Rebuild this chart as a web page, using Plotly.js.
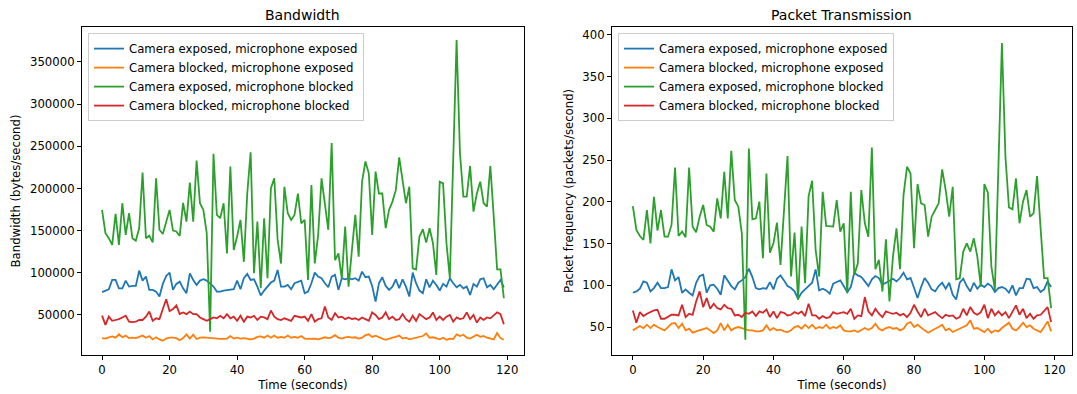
<!DOCTYPE html>
<html>
<head>
<meta charset="utf-8">
<script src="https://cdn.plot.ly/plotly-3.0.1.min.js"></script>
<style>html,body{margin:0;padding:0;background:#fff;}#chart{width:1077px;height:394px;}</style>
</head>
<body>
<div id="chart"></div>
<script>
// ---- data ----
const time = Array.from({length: 120}, (_, i) => i);
const seriesNames = [
  'Camera exposed, microphone exposed',
  'Camera blocked, microphone exposed',
  'Camera exposed, microphone blocked',
  'Camera blocked, microphone blocked'
];
const colors = ['#1f77b4', '#ff7f0e', '#2ca02c', '#d62728'];

// Bandwidth (bytes/second)
const bwCamExpMicExp = [
  77000, 79000, 80500, 91500, 91500, 81600, 81600, 90700, 83600, 84400,
  84400, 102600, 90700, 95500, 79700, 79700, 77700, 71800, 86800, 96300,
  100200, 79700, 86800, 89500, 81600, 75700, 99400, 91500, 85600, 90700,
  92300, 90700, 87600, 83600, 77700, 77700, 78900, 79700, 79700, 80500,
  90700, 80500, 93500, 98600, 91500, 92300, 83600, 73000, 78900, 84400,
  88400, 90700, 103400, 83600, 83600, 85600, 80500, 87600, 89500, 90700,
  75700, 77700, 87600, 100200, 95500, 93500, 87600, 82800, 95500, 97500,
  79700, 93500, 92300, 93500, 92300, 93500, 90700, 101400, 94700, 95500,
  84400, 65800, 87600, 94700, 84400, 79700, 83600, 92300, 81600, 92300,
  83600, 71800, 100200, 87600, 78900, 75700, 92300, 82800, 90700, 85600,
  78900, 86800, 83600, 93500, 87600, 82800, 85600, 81600, 83600, 73700,
  86800, 83600, 92300, 93500, 82800, 85600, 80500, 86800, 91500, 82800
];
const bwCamBlkMicExp = [
  22500, 22000, 23500, 24500, 23000, 27000, 23500, 25500, 22500, 23000,
  22500, 24000, 25500, 23000, 25000, 21000, 23500, 21000, 19500, 22000,
  23000, 23000, 22500, 20000, 22500, 27000, 22000, 26500, 21500, 23000,
  23500, 23000, 22500, 22000, 22000, 21500, 21500, 22000, 25000, 22000,
  23000, 22000, 22500, 21500, 21000, 22000, 24000, 24500, 23000, 25500,
  23000, 25500, 23000, 24000, 23000, 25500, 23000, 24000, 23000, 25000,
  22000, 21500, 21500, 22000, 21000, 22500, 23500, 22500, 23500, 26000,
  23000, 22000, 23500, 24000, 23000, 23500, 22000, 23000, 26000, 27000,
  24000, 25500, 23500, 22000, 20500, 22000, 23000, 24000, 25500, 22000,
  23000, 21000, 22000, 23000, 24000, 25000, 28000, 23000, 23500, 22000,
  21000, 23000, 20500, 22000, 21500, 27000, 25000, 26500, 23000, 22000,
  24000, 26500, 24000, 25000, 23000, 22000, 21000, 28500, 22500, 20500
];
const bwCamExpMicBlk = [
  174500, 147000, 141000, 133000, 170000, 133000, 182500, 145000, 170600, 141000,
  138000, 153000, 219000, 141000, 144000, 136000, 212000, 151000, 146000, 160700,
  174600, 150000, 149000, 143700, 183000, 160700, 207000, 160700, 233000, 182500,
  174500, 147000, 30000, 241000, 168600, 164700, 182500, 123000, 226000, 127000,
  143000, 162700, 113000, 194000, 243000, 99400, 160700, 81600, 164700, 93500,
  200000, 212000, 139000, 111000, 202000, 170600, 162700, 168600, 194000, 158700,
  162700, 91500, 204000, 111000, 145000, 212000, 182500, 151000, 254000, 115000,
  123000, 93500, 154800, 83600, 127000, 168600, 119000, 208000, 232000, 218000,
  145000, 220000, 194000, 194000, 153000, 174500, 184400, 198000, 237000, 210000,
  182500, 202000, 105400, 104000, 143000, 151600, 135800, 152800, 135000, 97500,
  208000, 206000, 135000, 93500, 230000, 376000, 241700, 190300, 190300, 226700,
  172500, 194000, 208000, 182500, 178500, 226700, 166600, 104000, 104000, 69800
];
const bwCamBlkMicBlk = [
  49200, 38200, 48000, 43000, 44000, 45000, 47000, 49000, 42000, 41500,
  42000, 44000, 44000, 48000, 54000, 43000, 46000, 45000, 57000, 68700,
  54500, 57000, 61400, 51200, 53000, 51000, 54000, 51000, 51000, 47000,
  45000, 43000, 45000, 47000, 46000, 49000, 46000, 51000, 46000, 48000,
  43000, 49000, 42000, 48000, 47000, 49000, 44000, 48000, 47000, 45000,
  55300, 48000, 45000, 44000, 46000, 44000, 43000, 49000, 48000, 47000,
  48000, 43000, 51000, 42000, 45000, 46000, 60000, 47000, 44000, 52000,
  47000, 48000, 45000, 47000, 45000, 46000, 44000, 47000, 45000, 43000,
  53000, 50000, 45000, 47000, 53000, 45000, 48000, 44000, 45000, 51000,
  45000, 42000, 49000, 43000, 51000, 48000, 45000, 47000, 53000, 44000,
  48000, 44000, 48000, 50000, 42000, 47000, 45000, 46000, 53000, 45000,
  50000, 41000, 47000, 44000, 47000, 46000, 49000, 53000, 51000, 39000
];

// Packet frequency (packets/second)
const pkCamExpMicExp = [
  91.1, 92.7, 95.9, 104.7, 103.1, 92.7, 96.7, 103.1, 96.7, 96.7,
  97.9, 119.1, 105.9, 109.9, 91.1, 95.1, 91.1, 87.9, 103.1, 111.1,
  112.7, 91.1, 99.9, 100.7, 95.9, 88.7, 111.9, 105.9, 99.1, 95.1,
  103.1, 105.9, 109.9, 119.9, 109.9, 96.7, 95.1, 96.7, 95.9, 103.9,
  95.1, 107.9, 111.9, 105.9, 99.1, 96.7, 92.7, 83.9, 91.1, 95.1,
  99.1, 103.1, 119.1, 93.9, 95.9, 93.9, 89.9, 101.9, 103.9, 105.9,
  99.1, 91.9, 97.9, 115.1, 111.9, 109.9, 104.7, 99.1, 107.1, 111.1,
  108.7, 100.7, 103.1, 105.9, 107.9, 104.7, 108.7, 115.1, 107.1, 108.7,
  96.7, 84.7, 97.9, 108.7, 103.1, 95.1, 92.7, 99.1, 103.1, 95.9,
  103.1, 88.7, 83.1, 103.1, 107.9, 99.1, 92.7, 103.1, 95.9, 100.7,
  97.9, 101.9, 99.1, 91.9, 96.7, 97.9, 95.9, 91.1, 99.9, 87.9,
  96.7, 96.7, 107.9, 107.1, 96.7, 97.9, 91.9, 95.1, 104.7, 97.9
];
const pkCamBlkMicExp = [
  46.0, 48.8, 51.2, 48.8, 52.8, 48.8, 52.8, 50.0, 48.0, 46.0,
  50.0, 54.0, 54.8, 48.8, 54.0, 46.0, 48.0, 43.2, 44.8, 46.0,
  48.0, 48.8, 46.0, 42.8, 46.0, 54.8, 46.0, 52.8, 46.0, 48.8,
  50.0, 48.8, 48.0, 46.0, 46.0, 44.8, 44.8, 46.0, 52.0, 46.0,
  48.8, 46.0, 46.8, 44.8, 44.0, 46.0, 50.0, 51.2, 48.0, 52.8,
  48.8, 52.8, 48.0, 50.0, 48.8, 52.8, 48.0, 50.0, 48.8, 52.0,
  46.0, 44.8, 44.8, 46.0, 44.0, 46.8, 48.8, 46.8, 48.8, 54.0,
  48.0, 46.0, 48.8, 50.0, 48.0, 48.8, 46.0, 48.0, 54.0, 56.0,
  50.0, 52.8, 48.8, 46.0, 43.2, 46.0, 48.0, 50.0, 52.8, 46.0,
  48.0, 44.0, 46.0, 48.0, 50.0, 52.0, 58.0, 48.0, 48.8, 46.0,
  44.0, 48.0, 43.2, 46.0, 44.8, 48.8, 52.0, 55.2, 48.0, 46.0,
  50.0, 55.2, 50.0, 52.0, 48.0, 46.0, 44.0, 50.0, 56.8, 44.8
];
const pkCamExpMicBlk = [
  195.0, 166.3, 159.1, 154.3, 190.2, 150.3, 206.0, 165.5, 190.2, 158.3,
  158.3, 172.3, 241.2, 159.1, 164.3, 157.5, 241.2, 170.3, 163.5, 182.2,
  196.2, 172.3, 170.3, 164.3, 204.2, 180.2, 236.0, 180.2, 261.2, 202.2,
  194.2, 162.3, 34.7, 264.0, 179.0, 180.2, 200.2, 132.4, 234.0, 139.2,
  150.3, 175.0, 124.4, 194.2, 254.8, 110.5, 163.1, 82.5, 170.3, 102.5,
  207.0, 225.3, 142.3, 110.5, 212.1, 171.1, 171.1, 170.3, 202.2, 164.3,
  174.3, 90.5, 212.1, 112.5, 126.4, 214.1, 174.3, 158.3, 265.2, 119.2,
  130.4, 92.5, 155.1, 80.6, 134.4, 168.3, 119.2, 208.1, 242.0, 234.0,
  144.4, 221.3, 198.2, 196.2, 158.3, 182.2, 190.2, 198.2, 238.8, 214.1,
  182.2, 218.1, 107.3, 108.5, 140.4, 150.3, 140.4, 156.3, 134.4, 98.5,
  221.3, 210.9, 122.4, 94.5, 242.0, 390.3, 254.0, 193.4, 191.0, 228.0,
  174.3, 200.2, 214.1, 182.2, 186.2, 230.9, 168.3, 108.5, 108.5, 72.6
];
const pkCamBlkMicBlk = [
  69.9, 55.2, 67.9, 63.1, 65.9, 67.9, 69.9, 70.7, 59.9, 59.9,
  61.9, 64.7, 64.7, 63.9, 76.7, 61.9, 65.9, 64.7, 80.7, 92.7,
  73.9, 84.7, 71.9, 77.9, 72.7, 71.1, 76.7, 72.7, 71.9, 63.9,
  64.7, 61.9, 67.1, 65.9, 68.7, 63.1, 68.7, 67.1, 71.1, 61.9,
  68.7, 60.7, 67.9, 67.1, 63.9, 64.7, 67.9, 65.9, 68.7, 63.1,
  77.9, 63.9, 63.9, 59.9, 63.1, 60.7, 61.9, 67.9, 65.9, 67.1,
  67.9, 65.9, 71.9, 59.9, 63.9, 63.1, 85.9, 68.7, 63.9, 71.9,
  65.9, 61.9, 68.7, 67.1, 65.9, 67.1, 63.9, 65.9, 61.9, 67.1,
  76.7, 68.7, 61.9, 71.9, 63.9, 65.9, 67.9, 63.9, 60.7, 64.7,
  63.1, 63.9, 59.9, 61.9, 71.9, 63.9, 73.9, 67.1, 64.7, 67.9,
  76.7, 60.7, 71.9, 63.9, 68.7, 63.9, 67.9, 60.7, 67.9, 75.9,
  64.7, 71.9, 60.7, 65.9, 59.9, 63.9, 64.7, 69.9, 73.9, 56.0
];

const bwSeries = [bwCamExpMicExp, bwCamBlkMicExp, bwCamExpMicBlk, bwCamBlkMicBlk];
const pkSeries = [pkCamExpMicExp, pkCamBlkMicExp, pkCamExpMicBlk, pkCamBlkMicBlk];

// ---- chart ----
const FONT = 'DejaVu Sans, Liberation Sans, sans-serif';
const FS = 11.7;
const traces = [];
bwSeries.forEach((s, i) => traces.push({
  x: time, y: s, type: 'scatter', mode: 'lines', name: seriesNames[i],
  line: {color: colors[i], width: 1.8}, xaxis: 'x', yaxis: 'y', legend: 'legend'
}));
pkSeries.forEach((s, i) => traces.push({
  x: time, y: s, type: 'scatter', mode: 'lines', name: seriesNames[i],
  line: {color: colors[i], width: 1.8}, xaxis: 'x2', yaxis: 'y2', legend: 'legend2'
}));

function xax(domain, anchor) {
  return {
    domain: domain, anchor: anchor, range: [-5.95, 124.95], dtick: 20, tick0: 0,
    showline: true, mirror: true, linecolor: '#000', linewidth: 1,
    ticks: 'outside', ticklen: 4, tickwidth: 1, tickcolor: '#000',
    showgrid: false, zeroline: false,
    tickfont: {family: FONT, size: FS, color: '#000'},
    title: {text: 'Time (seconds)', font: {family: FONT, size: FS, color: '#000'}, standoff: 4}
  };
}
function yax(domain, anchor, range, dtick, title) {
  return {
    domain: domain, anchor: anchor, range: range, dtick: dtick, tick0: 0, tickformat: 'd',
    showline: true, mirror: true, linecolor: '#000', linewidth: 1,
    ticks: 'outside', ticklen: 4, tickwidth: 1, tickcolor: '#000',
    showgrid: false, zeroline: false,
    tickfont: {family: FONT, size: FS, color: '#000'},
    title: {text: title, font: {family: FONT, size: FS, color: '#000'}, standoff: 6}
  };
}
const legendBase = {
  xanchor: 'left', yanchor: 'top', bordercolor: '#cccccc', borderwidth: 1,
  bgcolor: 'rgba(255,255,255,0.8)', font: {family: FONT, size: FS, color: '#000'},
  tracegroupgap: 0
};
const yDom = [0.099, 0.9315];
const layout = {
  width: 1077, height: 394, margin: {l: 0, r: 0, t: 0, b: 0},
  paper_bgcolor: '#fff', plot_bgcolor: '#fff',
  font: {family: FONT, size: FS, color: '#000'},
  xaxis: xax([0.0761, 0.4865], 'y'),
  yaxis: yax(yDom, 'x', [2500, 391500], 50000, 'Bandwidth (bytes/second)'),
  xaxis2: xax([0.5682, 0.9954], 'y2'),
  yaxis2: yax(yDom, 'x2', [16.5, 409.5], 50, 'Packet frequency (packets/second)'),
  legend: Object.assign({x: 0.0817, y: 0.916}, legendBase),
  legend2: Object.assign({x: 0.5738, y: 0.916}, legendBase),
  annotations: [
    {text: 'Bandwidth', xref: 'paper', yref: 'paper', x: (0.0761 + 0.4865) / 2, y: 1 - 15.5 / 394,
     xanchor: 'center', yanchor: 'middle', showarrow: false, font: {family: FONT, size: 14, color: '#000'}},
    {text: 'Packet Transmission', xref: 'paper', yref: 'paper', x: (0.5682 + 0.9954) / 2, y: 1 - 15.5 / 394,
     xanchor: 'center', yanchor: 'middle', showarrow: false, font: {family: FONT, size: 14, color: '#000'}}
  ],
  showlegend: true
};
Plotly.newPlot('chart', traces, layout, {displayModeBar: false, staticPlot: true});
</script>
</body>
</html>
